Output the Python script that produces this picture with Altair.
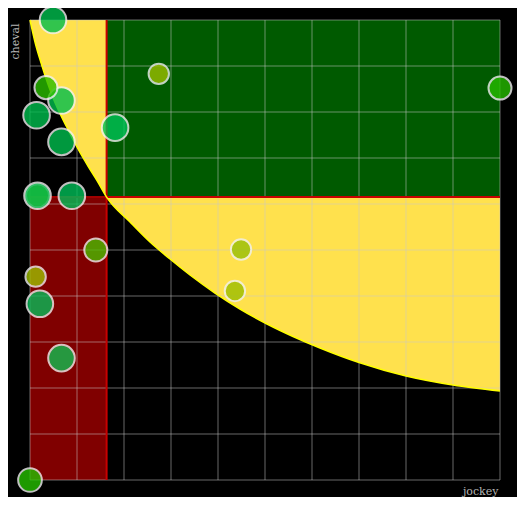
import altair as alt
import pandas as pd

# thresholds (data units, both axes 0..1)
TX = 0.163
TY = 0.615
GRID = [0.0, 0.1, 0.2, 0.3, 0.4, 0.5, 0.6, 0.7, 0.8, 0.9, 1.0]

# boundary curve
curve_x = [0.0, 0.0106, 0.0249, 0.05, 0.0781, 0.1028, 0.124, 0.1426, 0.163, 0.2128,
           0.2553, 0.2979, 0.3404, 0.3936, 0.4468, 0.5043, 0.5596, 0.617, 0.70, 0.80,
           0.90, 1.0]
curve_y = [1.0, 0.9522, 0.9022, 0.8283, 0.7674, 0.7185, 0.6815, 0.6511, 0.615, 0.5609,
           0.5174, 0.4804, 0.4457, 0.4065, 0.3717, 0.3391, 0.312, 0.287, 0.2554, 0.2261,
           0.2065, 0.1935]

# points
pt_x = [0.049, 0.274, 1.0, 0.067, 0.034, 0.014, 0.181, 0.067, 0.016, 0.016, 0.089,
        0.140, 0.449, 0.012, 0.436, 0.021, 0.067, 0.0]
pt_y = [1.0, 0.883, 0.852, 0.825, 0.853, 0.793, 0.766, 0.735, 0.618, 0.618, 0.618,
        0.500, 0.501, 0.442, 0.411, 0.383, 0.265, 0.0]
pt_color = ["#00be4e", "#9cbe00", "#26bc00", "#00be4e", "#2abe00", "#00be4e", "#00c457",
            "#00be4e", "#26bc00", "#10be50", "#00be58", "#4bbc00", "#97bf06", "#9ebe00",
            "#9cbe00", "#05bc58", "#10be50", "#26c000"]
pt_size = [707, 415, 530, 707, 530, 707, 707, 707, 530, 707, 707, 530, 415, 415,
           415, 707, 707, 560]

curve = pd.DataFrame({"x": curve_x, "y": curve_y, "top": [1.0] * len(curve_x)})
pts = pd.DataFrame({"x": pt_x, "y": pt_y, "c": pt_color, "s": pt_size})
box = pd.DataFrame({"tx": [TX], "ty": [TY], "lo": [0.0], "hi": [1.0]})
grid = pd.DataFrame({"g": GRID, "lo": [0.0] * len(GRID), "hi": [1.0] * len(GRID)})

sx = alt.Scale(domain=[0, 1], nice=False, zero=False)
sy = alt.Scale(domain=[0, 1], nice=False, zero=False)
AXX = alt.Axis(title="jockey", labels=False, ticks=False, domain=False, grid=False,
               titleAnchor="end", titlePadding=5, titleX=468, titleAlign="right")
AXY = alt.Axis(title="cheval", labels=False, ticks=False, domain=False, grid=False,
               titleAnchor="end", titlePadding=10, titleY=3, titleAlign="right")


def X(f):
    return alt.X(f, type="quantitative", scale=sx, axis=AXX)


def Y(f):
    return alt.Y(f, type="quantitative", scale=sy, axis=AXY)


yellow = alt.Chart(curve).mark_area(color="#ffe14d", opacity=1, interpolate="monotone").encode(
    x=X("x"), y=Y("y"), y2="top:Q",
)
green = alt.Chart(box).mark_rect(color="#005a00").encode(
    x=X("tx"), x2="hi:Q", y=Y("ty"), y2="hi:Q",
)
red = alt.Chart(box).mark_rect(color="#800000").encode(
    x=X("lo"), x2="tx:Q", y=Y("lo"), y2="ty:Q",
)
vgrid = alt.Chart(grid).mark_rule(color="#c8c8c8", opacity=0.35, strokeWidth=1.5).encode(
    x=X("g"), y=Y("lo"), y2="hi:Q",
)
hgrid = alt.Chart(grid).mark_rule(color="#c8c8c8", opacity=0.35, strokeWidth=1.5).encode(
    y=Y("g"), x=X("lo"), x2="hi:Q",
)
vred = alt.Chart(box).mark_rule(color="#c80000", strokeWidth=2).encode(
    x=X("tx"), y=Y("lo"), y2="hi:Q",
)
hred = alt.Chart(box).mark_rule(color="#c80000", strokeWidth=2).encode(
    y=Y("ty"), x=X("tx"), x2="hi:Q",
)
hred2 = alt.Chart(box).mark_rule(color="#a00000", strokeWidth=2).encode(
    y=Y("ty"), x=X("lo"), x2="tx:Q",
)
edge = alt.Chart(curve).mark_line(color="#ffff00", strokeWidth=1.5, interpolate="monotone").encode(
    x=X("x"), y=Y("y"),
)
dots = alt.Chart(pts).mark_circle(opacity=0.8, stroke="#f0f0f0", strokeWidth=2).encode(
    x=X("x"), y=Y("y"),
    color=alt.Color("c:N", scale=None),
    size=alt.Size("s:Q", scale=None),
)

chart = alt.layer(yellow, green, red, vgrid, hgrid, hred2, vred, hred, edge, dots).properties(
    width=470, height=460,
    padding={"left": 22, "top": 12, "right": 17, "bottom": 17},
    autosize="none",
).configure(background="black").configure_view(stroke=None).configure_axis(
    titleFont="DejaVu Serif", titleFontSize=11, titleFontWeight="normal", titleColor="#b4b4b4"
)

chart.save("out.html", embed_options={"renderer": "svg", "actions": False})
